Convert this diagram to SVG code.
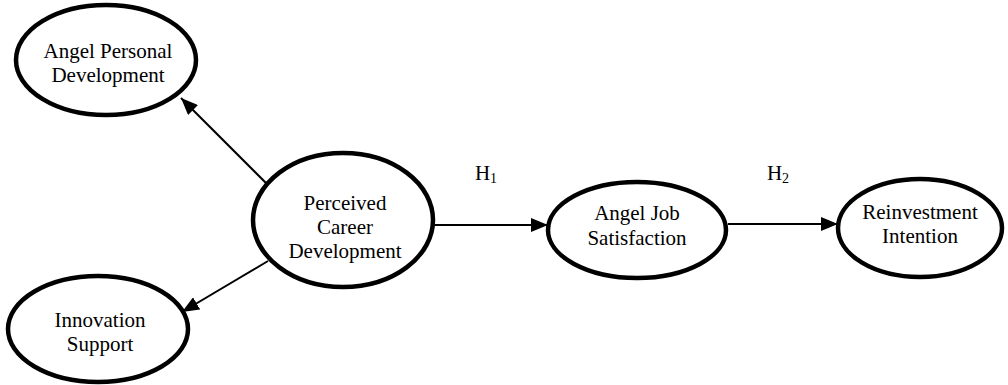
<svg xmlns="http://www.w3.org/2000/svg" width="1008" height="385" viewBox="0 0 1008 385">
  <style>
    .node ellipse { fill: #ffffff; stroke: #000000; stroke-width: 4.5; }
    .node text, .label { font-family: "Liberation Serif", "Times New Roman", serif; font-size: 21px; fill: #000000; text-anchor: middle; }
    .edge { stroke: #000000; stroke-width: 2; fill: none; marker-end: url(#arrow); }
    .sub { font-size: 14px; }
  </style>
  <defs>
    <marker id="arrow" viewBox="0 0 17 14" refX="17" refY="7" markerWidth="8.5" markerHeight="7" markerUnits="strokeWidth" orient="auto">
      <path d="M0,0 L17,7 L0,14 z" fill="#000000"/>
    </marker>
  </defs>

  <rect width="1008" height="385" fill="#ffffff"/>

  <g id="connectors">
    <line class="edge" x1="268" y1="185" x2="181" y2="98"/>
    <line class="edge" x1="268" y1="261" x2="182" y2="312"/>
    <line class="edge" x1="434" y1="225" x2="548" y2="225"/>
    <line class="edge" x1="728" y1="224" x2="838" y2="224"/>
  </g>

  <g id="labels">
    <text class="label" x="486" y="180">H<tspan class="sub" dy="3">1</tspan></text>
    <text class="label" x="778" y="180">H<tspan class="sub" dy="3">2</tspan></text>
  </g>

  <g id="angel-personal-development" class="node">
    <ellipse cx="106" cy="60" rx="90" ry="55"/>
    <text x="108" y="58">Angel Personal</text>
    <text x="108" y="82">Development</text>
  </g>

  <g id="perceived-career-development" class="node">
    <ellipse cx="343" cy="220" rx="90" ry="67"/>
    <text x="345" y="210">Perceived</text>
    <text x="345" y="234">Career</text>
    <text x="345" y="258">Development</text>
  </g>

  <g id="innovation-support" class="node">
    <ellipse cx="98" cy="329" rx="90" ry="53"/>
    <text x="100" y="327">Innovation</text>
    <text x="100" y="351">Support</text>
  </g>

  <g id="angel-job-satisfaction" class="node">
    <ellipse cx="637" cy="230" rx="89" ry="48"/>
    <text x="637" y="220">Angel Job</text>
    <text x="637" y="245">Satisfaction</text>
  </g>

  <g id="reinvestment-intention" class="node">
    <ellipse cx="920" cy="228" rx="82" ry="49"/>
    <text x="920" y="219">Reinvestment</text>
    <text x="920" y="243">Intention</text>
  </g>
</svg>
